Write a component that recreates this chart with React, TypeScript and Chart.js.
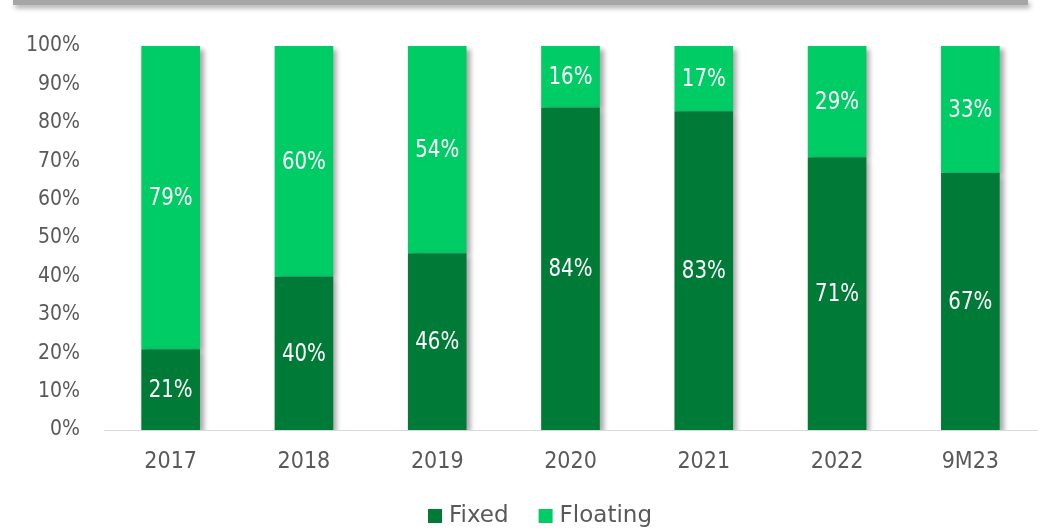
import React, { useEffect, useRef } from "react";
import { Chart, registerables } from "chart.js";

Chart.register(...registerables);

const categories = ["2017", "2018", "2019", "2020", "2021", "2022", "9M23"];
const fixedValues = [21, 40, 46, 84, 83, 71, 67];
const floatingValues = [79, 60, 54, 16, 17, 29, 33];
const yTicks = [0, 10, 20, 30, 40, 50, 60, 70, 80, 90, 100];

const DARK = "#007A37";
const LIGHT = "#00CC66";
const TEXT = "#595959";
const COND = "'DejaVu Sans Condensed', 'DejaVu Sans', sans-serif";
const LEGEND_FONT = "'DejaVu Sans', sans-serif";

const shadowPlugin = {
  id: "barShadow",
  beforeDatasetsDraw(chart: any) {
    const ctx = chart.ctx;
    ctx.save();
    ctx.shadowColor = "rgba(0,0,0,0.35)";
    ctx.shadowBlur = 5;
    ctx.shadowOffsetX = 4;
    ctx.shadowOffsetY = 3;
  },
  afterDatasetsDraw(chart: any) {
    chart.ctx.restore();
  },
};

const labelPlugin = {
  id: "segLabels",
  afterDatasetsDraw(chart: any) {
    const ctx = chart.ctx;
    ctx.save();
    ctx.fillStyle = "#FFFFFF";
    ctx.font = `22px ${COND}`;
    ctx.textAlign = "center";
    ctx.textBaseline = "middle";
    chart.data.datasets.forEach((ds: any, di: number) => {
      const meta = chart.getDatasetMeta(di);
      meta.data.forEach((bar: any, i: number) => {
        const top = Math.min(bar.y, bar.base);
        const bottom = Math.max(bar.y, bar.base);
        const cy = (top + bottom) / 2 + 1;
        ctx.save();
        ctx.translate(bar.x, cy);
        ctx.scale(1, 1.12);
        ctx.fillText(ds.data[i] + "%", 0, 0);
        ctx.restore();
      });
    });
    ctx.restore();
  },
};

const legendPlugin = {
  id: "customLegend",
  afterDraw(chart: any) {
    const ctx = chart.ctx;
    ctx.save();
    ctx.font = `23px ${LEGEND_FONT}`;
    ctx.textBaseline = "middle";
    ctx.textAlign = "left";
    const box = 14;
    const gapText = 7;
    const gapItem = 30;
    const items = chart.data.datasets.map((ds: any) => ({
      label: ds.label,
      color: ds.backgroundColor,
      w: box + gapText + ctx.measureText(ds.label).width,
    }));
    const total = items.reduce((s: number, it: any) => s + it.w, 0) + gapItem * (items.length - 1);
    let x = 540 - total / 2;
    const cy = 516;
    items.forEach((it: any) => {
      ctx.fillStyle = it.color;
      ctx.fillRect(x, cy - box / 2, box, box);
      ctx.fillStyle = TEXT;
      ctx.fillText(it.label, x + box + gapText, cy);
      x += it.w + gapItem;
    });
    ctx.restore();
  },
};

export default function App() {
  const ref = useRef<HTMLCanvasElement>(null);
  useEffect(() => {
    if (!ref.current) return;
    const chart = new Chart(ref.current, {
      type: "bar",
      data: {
        labels: categories,
        datasets: [
          {
            label: "Fixed",
            data: fixedValues,
            backgroundColor: DARK,
            barPercentage: 0.88,
            categoryPercentage: 0.5,
          },
          {
            label: "Floating",
            data: floatingValues,
            backgroundColor: LIGHT,
            barPercentage: 0.88,
            categoryPercentage: 0.5,
          },
        ],
      },
      options: {
        animation: false,
        responsive: false,
        maintainAspectRatio: false,
        layout: { padding: { top: 46, right: 4, left: 0, bottom: 40 } },
        plugins: {
          legend: { display: false },
          tooltip: { enabled: false },
        },
        scales: {
          x: {
            stacked: true,
            grid: { display: false },
            border: { display: true, color: "#D9D9D9", width: 1 },
            ticks: {
              color: TEXT,
              font: { family: COND, size: 23 },
              padding: 10,
            },
            afterFit(scale: any) {
              scale.height = 60;
            },
          },
          y: {
            stacked: true,
            min: 0,
            max: 100,
            grid: { display: false },
            border: { display: false },
            afterBuildTicks(scale: any) {
              scale.ticks = yTicks.map((v) => ({ value: v }));
            },
            ticks: {
              color: TEXT,
              font: { family: COND, size: 21 },
              padding: 16,
              callback: (v: any) => v + "%",
            },
            afterFit(scale: any) {
              scale.width = 104;
            },
          },
        },
      },
      plugins: [shadowPlugin, labelPlugin, legendPlugin],
    });
    return () => chart.destroy();
  }, []);

  return (
    <div style={{ position: "fixed", left: 0, top: 0, width: 1041, height: 530, background: "#fff" }}>
      <div
        style={{
          position: "absolute",
          left: 13,
          top: 0,
          width: 1015,
          height: 5,
          background: "#A6A6A6",
          boxShadow: "2px 3px 5px rgba(0,0,0,0.35)",
        }}
      />
      <canvas ref={ref} width={1041} height={530} style={{ display: "block" }} />
    </div>
  );
}
